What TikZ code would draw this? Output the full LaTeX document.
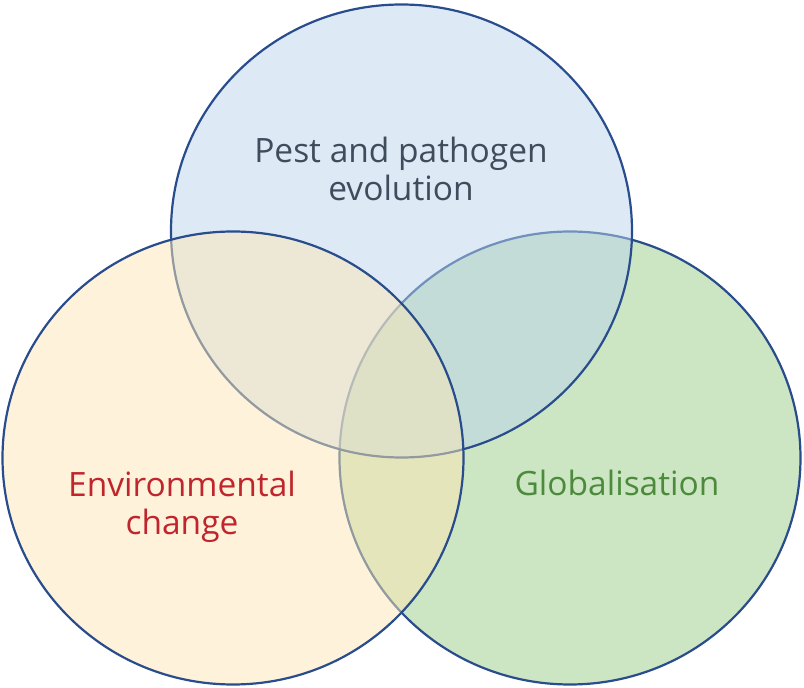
\documentclass[tikz,border=0pt]{standalone}
\usepackage{fontspec}
\usetikzlibrary{shapes.geometric}
\setmainfont{Open Sans}
\definecolor{topfill}{RGB}{187,213,237}
\definecolor{leftfill}{RGB}{253,231,181}
\definecolor{rightfill}{RGB}{153,203,135}
\definecolor{ringcol}{RGB}{40,76,140}
\definecolor{pestcol}{RGB}{63,76,92}
\definecolor{envcol}{RGB}{192,37,45}
\definecolor{globcol}{RGB}{76,138,60}
\tikzset{
  ring/.style={ellipse, minimum width=461pt, minimum height=453pt, inner sep=0pt, draw=ringcol, line width=2.2pt, fill opacity=0.5},
  lbl/.style={align=center, font=\fontsize{33.5}{38.5}\selectfont, inner sep=0pt}
}
\begin{document}
\begin{tikzpicture}[x=1pt,y=1pt]
\useasboundingbox (0,0) rectangle (804,688);
\node[ring, fill=rightfill] (glob) at (570,230) {};
\node[ring, fill=topfill] (pest) at (401.5,457) {};
\node[ring, fill=leftfill] (env) at (233,230) {};
\node[lbl, text=pestcol] (pestlbl) at (401,519) {Pest and pathogen\\evolution};
\node[lbl, text=envcol] (envlbl) at (182,181) {Environmental\\change};
\node[lbl, text=globcol] (globlbl) at (617,205) {Globalisation};
\end{tikzpicture}
\end{document}
